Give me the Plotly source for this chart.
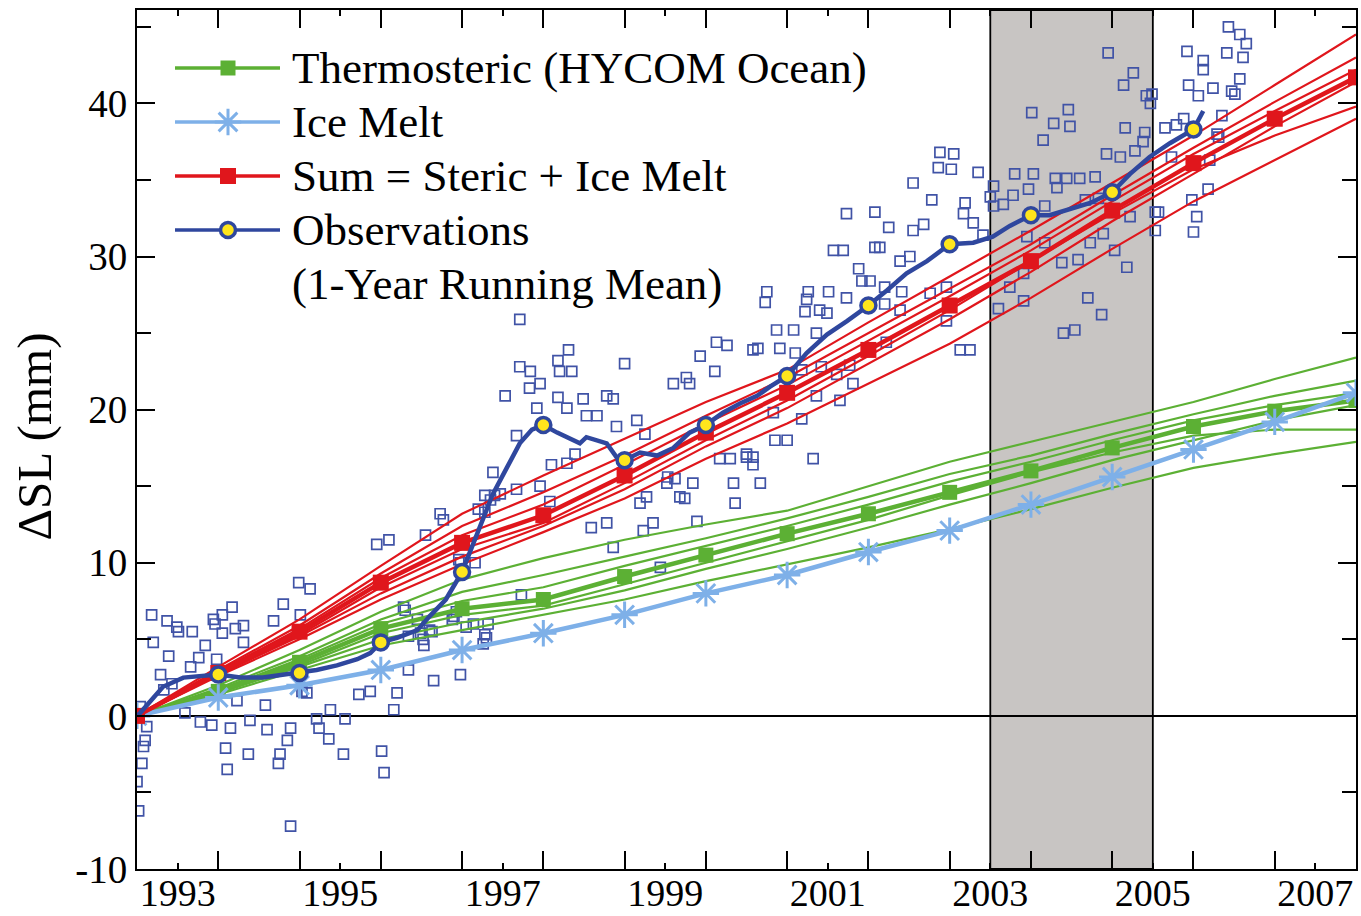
import plotly.graph_objects as go

# ---------------- data ----------------
years = [1993, 1994, 1995, 1996, 1997, 1998, 1999, 2000, 2001, 2002, 2003, 2004, 2005, 2006, 2007, 2008]

thermo_mean = [0, 1.6, 3.5, 5.7, 7.0, 7.6, 9.1, 10.5, 11.9, 13.2, 14.6, 16.0, 17.5, 18.9, 19.9, 20.6]
ice_melt    = [0, 1.2, 2.0, 3.0, 4.3, 5.4, 6.6, 8.0, 9.2, 10.7, 12.1, 13.8, 15.6, 17.4, 19.2, 21.1]
sum_mean    = [0, 2.8, 5.5, 8.7, 11.3, 13.1, 15.7, 18.5, 21.1, 23.9, 26.8, 29.7, 33.0, 36.1, 39.0, 41.7]

thermo_members = [
    [0, 2.0, 4.3, 6.8, 8.9, 10.3, 11.5, 12.5, 13.4, 15.0, 16.6, 17.9, 19.2, 20.5, 22.0, 23.4],
    [0, 1.8, 3.9, 6.3, 8.1, 9.2, 10.4, 11.6, 12.9, 14.3, 15.8, 17.0, 18.4, 19.7, 20.9, 21.9],
    [0, 1.7, 3.7, 6.0, 7.5, 8.4, 9.8, 11.1, 12.4, 13.8, 15.3, 16.6, 18.0, 19.3, 20.3, 21.1],
    [0, 1.5, 3.3, 5.4, 6.6, 7.2, 8.6, 10.0, 11.4, 12.8, 14.4, 15.9, 17.2, 18.3, 18.7, 18.7],
    [0, 1.4, 3.0, 4.6, 5.6, 6.6, 7.6, 8.8, 9.9, 11.0, 12.2, 13.5, 14.9, 16.2, 17.1, 17.9],
    [0, 1.5, 3.2, 5.0, 6.1, 7.0, 8.2, 9.6, 10.9, 12.3, 13.8, 15.2, 16.7, 18.0, 19.3, 20.3],
]
sum_members = [
    [0, 3.2, 6.3, 9.8, 13.2, 15.7, 18.1, 20.5, 22.6, 25.7, 28.7, 31.7, 34.8, 37.9, 41.2, 44.5],
    [0, 3.0, 5.9, 9.3, 12.4, 14.6, 17.0, 19.6, 22.1, 25.0, 27.9, 30.8, 34.0, 37.1, 40.1, 43.0],
    [0, 2.9, 5.7, 9.0, 11.8, 13.8, 16.4, 19.1, 21.6, 24.5, 27.4, 30.4, 33.6, 36.7, 39.5, 42.2],
    [0, 2.7, 5.3, 8.4, 10.9, 12.6, 15.2, 18.0, 20.6, 23.5, 26.5, 29.7, 32.8, 35.7, 37.9, 39.8],
    [0, 2.6, 5.0, 7.6, 9.9, 12.0, 14.2, 16.8, 19.1, 21.7, 24.3, 27.3, 30.5, 33.6, 36.3, 39.0],
    [0, 2.7, 5.2, 8.0, 10.4, 12.4, 14.8, 17.6, 20.1, 23.0, 25.9, 29.0, 32.3, 35.4, 38.5, 41.4],
]

# 1-year running mean of observations
obs_mean_t = [1993.0, 1993.04, 1993.32, 1993.57, 1994.0, 1994.27, 1994.55, 1994.8, 1995.0, 1995.21,
              1995.46, 1995.71, 1995.87, 1996.0, 1996.2, 1996.45, 1996.6, 1996.8, 1997.0, 1997.22,
              1997.38, 1997.55, 1997.71, 1997.86, 1998.0, 1998.17, 1998.29, 1998.45, 1998.53, 1998.66,
              1998.78, 1998.9, 1999.0, 1999.19, 1999.4, 1999.6, 1999.8, 2000.0, 2000.21, 2000.42,
              2000.63, 2000.79, 2001.0, 2001.24, 2001.49, 2001.74, 2002.0, 2002.23, 2002.47, 2002.72,
              2003.0, 2003.29, 2003.53, 2003.74, 2004.0, 2004.23, 2004.48, 2004.73, 2005.0, 2005.22,
              2005.46, 2005.71, 2006.0, 2006.12]
obs_mean_v = [0.0, 0.2, 1.9, 2.5, 2.7, 2.5, 2.5, 2.7, 2.8, 3.0,
              3.3, 3.7, 4.1, 4.8, 5.1, 5.6, 6.5, 7.6, 9.4, 12.3,
              14.5, 16.2, 17.8, 18.7, 19.0, 18.5, 18.2, 17.8, 18.2, 18.0,
              17.8, 16.9, 16.7, 17.2, 17.0, 17.5, 18.5, 19.0, 19.8, 20.4,
              20.9, 21.5, 22.2, 23.7, 24.9, 25.8, 26.8, 27.8, 28.9, 29.7,
              30.8, 30.9, 31.3, 32.0, 32.7, 32.7, 33.1, 33.5, 34.2, 35.4,
              36.5, 37.4, 38.3, 39.5]
obs_mark_t = [1994, 1995, 1996, 1997, 1998, 1999, 2000, 2001, 2002, 2003, 2004, 2005, 2006]
obs_mark_v = [2.7, 2.8, 4.8, 9.4, 19.0, 16.7, 19.0, 22.2, 26.8, 30.8, 32.7, 34.2, 38.3]

# individual observations (~10-day)
obs_t = [
    1993.04, 1993.12, 1993.08, 1993.10, 1993.06, 1993.00, 1993.02, 1993.18, 1993.20, 1993.37,
    1993.49, 1993.51, 1993.68, 1993.39, 1993.29, 1993.33, 1993.43, 1993.59, 1993.66, 1993.76,
    1993.84, 1993.94, 1993.96, 1994.05, 1994.17, 1994.05, 1994.21, 1994.31, 1994.31, 1993.98,
    1993.78, 1993.92, 1994.15, 1994.09, 1994.11, 1994.39, 1994.37, 1994.23, 1994.58, 1994.60,
    1994.68, 1994.80, 1994.76, 1994.74, 1994.89, 1994.85, 1994.89, 1994.99, 1995.13, 1995.01,
    1995.03, 1995.09, 1995.21, 1995.24, 1995.36, 1995.38, 1995.56, 1995.54, 1995.73, 1995.87,
    1996.01, 1996.04, 1995.95, 1996.10, 1996.16, 1996.20, 1996.28, 1996.34, 1996.49, 1996.53,
    1996.63, 1996.65, 1996.73, 1996.55, 1996.88, 1996.98, 1996.96,
    1997.28, 1997.40, 1997.35, 1997.20, 1996.98, 1997.16, 1996.30, 1996.45, 1996.60, 1996.34,
    1996.52, 1996.90, 1997.05, 1997.28, 1999.53,
    1997.71, 1997.71, 1997.84, 1997.96, 1997.83, 1997.53, 1998.18, 1998.31, 1998.20, 1998.35,
    1998.18, 1998.49, 1998.53, 1998.66, 1998.29, 1997.92, 1997.67, 1997.38, 1997.67, 1997.47,
    1997.28, 1997.96, 1998.10, 1998.29, 1998.39, 1998.08, 1998.59, 1998.78, 1998.86, 1998.78,
    1998.86, 1999.00, 1999.15, 1999.25, 1998.90, 1999.19, 1999.27, 1999.35, 1999.23, 1999.44,
    1999.52, 1999.62, 1999.68, 1999.74, 1999.60, 1999.76, 1999.80, 1999.93, 2000.13, 2000.26,
    2000.11, 1999.84, 1999.89, 2000.36, 2000.34, 2000.58, 2000.67, 2000.17, 2000.30, 2000.50,
    2000.64, 2000.73, 2000.58, 1997.73, 1997.14, 1997.32, 1996.93, 1997.26, 1997.30, 1996.77,
    2000.75, 2001.26, 2001.24, 2001.51, 2001.22, 2001.40, 2001.49, 2000.87, 2001.08, 2000.91,
    2001.10, 2001.36, 2001.42, 2001.61, 2001.18, 2001.36, 2001.65, 2001.18, 2000.83, 2000.85,
    2001.00, 2000.50, 2000.58, 2001.32, 2001.73, 2002.08, 2002.25, 2001.57, 2001.69, 2002.08,
    2002.14, 2001.88, 2001.92, 2002.02, 2001.73, 2002.20, 2002.20, 2002.39, 2002.51, 2002.55,
    2002.68, 2002.55, 2002.78, 2002.88, 2003.05, 2002.86, 2003.02, 2003.35, 2003.19, 2003.17,
    2003.29, 2003.41, 2002.41, 2002.39, 2002.76, 2002.96, 2003.13, 2003.25, 2002.96, 2002.22,
    2001.77, 2001.81,
    2005.26, 2005.14, 2005.42, 2005.47, 2004.01, 2004.46, 2004.28, 2004.48, 2004.15, 2005.16,
    2005.40, 2005.38, 2004.93, 2005.10, 2005.28, 2003.80, 2004.03, 2004.30, 2004.32, 2004.44,
    2004.60, 2004.79, 2003.54, 2003.66, 2003.78, 2003.97, 2004.17, 2004.67, 2004.83, 2003.95,
    2004.17, 2004.73, 2004.89, 2005.22, 2005.03, 2004.58, 2004.38, 2005.18, 2003.91, 2003.74,
    2003.60, 2003.91, 2004.70, 2004.87, 2004.40, 2004.54, 2005.53, 2003.50, 2003.54, 2005.49,
    2004.95,
    2006.43, 2006.57, 2006.65, 2006.61, 2006.41, 2005.92, 2006.12, 2006.12, 2006.57, 2005.94,
    2006.24, 2006.06, 2006.47, 2006.51, 2006.35, 2005.65, 2005.88, 2005.79, 2006.29, 2006.31,
    2005.73, 2006.20, 2006.18, 2005.98, 2006.04, 2006.00, 2005.57, 2005.53,
]
obs_v = [
    0.6, -0.7, -2.0, -1.6, -3.1, -4.3, -6.2, 6.6, 4.8, 6.2,
    5.8, 5.5, 5.5, 3.9, 2.7, 1.7, 2.1, 0.2, 3.2, 3.8,
    4.6, 6.3, 6.0, 6.6, 7.1, 5.4, 5.7, 5.9, 4.8, 3.7,
    -0.4, -0.6, -0.8, -2.1, -3.5, -0.3, -2.5, 1.0, 0.7, -0.9,
    6.2, 7.3, -2.5, -3.1, -0.8, -1.6, -7.2, 8.7, 8.3, 6.6,
    1.6, 1.5, -0.2, -0.8, -1.5, 0.4, -0.2, -2.5, 1.4, 1.6,
    -2.3, -3.7, 11.2, 11.5, 0.4, 1.5, 7.1, 3.0, 5.4, 4.6,
    5.5, 2.3, 13.2, 11.8, 6.3, 2.7, 10.2,
    14.4, 14.4, 14.1, 13.5, 10.0, 10.0, 6.9, 6.3, 5.6, 5.2,
    5.0, 6.5, 5.8, 5.3, 15.6,
    25.9, 22.8, 22.5, 21.7, 21.4, 20.9, 23.2, 23.9, 22.5, 22.5,
    20.8, 20.7, 19.6, 19.6, 20.1, 20.1, 18.3, 15.9, 14.8, 14.5,
    13.3, 15.0, 16.4, 16.5, 17.1, 14.0, 12.3, 12.6, 11.0, 20.9,
    20.7, 23.0, 19.3, 18.4, 18.9, 13.9, 14.3, 12.6, 12.1, 9.7,
    15.2, 15.5, 14.3, 14.2, 21.7, 22.1, 21.7, 23.5, 24.4, 24.2,
    22.5, 15.2, 12.7, 13.9, 15.2, 16.9, 15.2, 16.8, 16.8, 17.1,
    24.0, 27.0, 23.9, 7.9, 6.0, 6.0, 6.8, 4.7, 5.1, 12.8,
    27.7, 27.7, 27.2, 27.7, 26.4, 26.5, 26.3, 25.2, 25.2, 24.0,
    23.7, 25.0, 22.8, 22.3, 22.6, 20.9, 20.6, 19.4, 19.8, 18.0,
    18.0, 16.9, 16.4, 16.8, 32.8, 32.9, 31.9, 30.4, 30.4, 30.6,
    30.6, 29.2, 28.4, 28.4, 27.3, 28.0, 26.9, 29.7, 30.0, 31.7,
    32.1, 34.8, 33.7, 36.8, 36.7, 35.8, 35.7, 35.5, 33.5, 32.8,
    32.2, 31.4, 27.7, 26.5, 27.6, 25.8, 23.9, 23.9, 28.0, 24.4,
    22.9, 21.7,
    42.0, 41.2, 40.5, 40.0, 39.4, 39.6, 38.7, 38.5, 37.6, 38.4,
    38.1, 37.5, 36.7, 36.5, 36.9, 35.4, 35.4, 35.1, 34.5, 35.1,
    35.1, 35.2, 34.6, 33.4, 34.0, 34.4, 33.3, 33.7, 33.8, 31.3,
    30.9, 30.9, 31.5, 32.6, 30.4, 29.8, 29.6, 29.3, 28.9, 28.0,
    26.6, 27.1, 27.3, 26.2, 25.0, 25.2, 32.9, 33.9, 33.3, 40.6,
    43.3,
    45.0, 44.5, 43.9, 43.0, 43.3, 43.4, 42.8, 42.2, 41.6, 41.2,
    41.0, 40.5, 40.8, 40.6, 39.2, 38.4, 39.0, 38.6, 38.0, 37.8,
    36.5, 36.3, 34.4, 33.7, 32.6, 31.6, 32.9, 31.7,
]

x_tick_vals = [1993.5, 1995.5, 1997.5, 1999.5, 2001.5, 2003.5, 2005.5, 2007.5]
x_tick_text = ["1993", "1995", "1997", "1999", "2001", "2003", "2005", "2007"]
x_minor_vals = [1994, 1995, 1996, 1997, 1998, 1999, 2000, 2001, 2002, 2003, 2004, 2005, 2006, 2007]
y_tick_vals = [-10, 0, 10, 20, 30, 40]
y_tick_text = ["-10", "0", "10", "20", "30", "40"]
shade_period = [2003.5, 2005.5]

legend_labels = ["Thermosteric (HYCOM Ocean)", "Ice Melt", "Sum = Steric + Ice Melt",
                 "Observations", "(1-Year Running Mean)"]

# ---------------- style ----------------
GREEN = "#5cb034"
LBLUE = "#7eb0e8"
RED = "#e0161c"
DBLUE = "#2f479e"
SQ = "#4053a6"
YEL = "#ffe61c"
FONT = "Liberation Serif"

fig = go.Figure()

fig.add_trace(go.Scatter(x=obs_t, y=obs_v, mode="markers",
                         marker=dict(symbol="square-open", size=10, color=SQ, line=dict(width=1.7, color=SQ)),
                         showlegend=False, hoverinfo="skip"))

for m in thermo_members:
    fig.add_trace(go.Scatter(x=years, y=m, mode="lines", line=dict(color=GREEN, width=2.2),
                             showlegend=False, hoverinfo="skip"))
for m in sum_members:
    fig.add_trace(go.Scatter(x=years, y=m, mode="lines", line=dict(color=RED, width=2.2),
                             showlegend=False, hoverinfo="skip"))

fig.add_trace(go.Scatter(x=years, y=thermo_mean, mode="lines+markers",
                         line=dict(color=GREEN, width=4.5),
                         marker=dict(symbol="square", size=15, color=GREEN),
                         showlegend=False))
fig.add_trace(go.Scatter(x=years, y=ice_melt, mode="lines+markers",
                         line=dict(color=LBLUE, width=4.5),
                         marker=dict(symbol="asterisk-open", size=22, color=LBLUE, line=dict(width=3, color=LBLUE)),
                         showlegend=False))
fig.add_trace(go.Scatter(x=years, y=sum_mean, mode="lines+markers",
                         line=dict(color=RED, width=4.5),
                         marker=dict(symbol="square", size=16, color=RED),
                         showlegend=False))
fig.add_trace(go.Scatter(x=obs_mean_t, y=obs_mean_v, mode="lines",
                         line=dict(color=DBLUE, width=4.5),
                         showlegend=False))
fig.add_trace(go.Scatter(x=obs_mark_t, y=obs_mark_v, mode="markers",
                         marker=dict(symbol="circle", size=15, color=YEL, line=dict(width=3.5, color=DBLUE)),
                         showlegend=False))

# ---------------- legend (pixel overlay axes) ----------------
leg_rows = [68, 122, 176, 230]
leg_x0, leg_x1, leg_xm, leg_tx = 175, 280, 228, 290
leg_styles = [
    (GREEN, dict(symbol="square", size=15, color=GREEN)),
    (LBLUE, dict(symbol="asterisk-open", size=22, color=LBLUE, line=dict(width=3, color=LBLUE))),
    (RED, dict(symbol="square", size=16, color=RED)),
    (DBLUE, dict(symbol="circle", size=15, color=YEL, line=dict(width=3.5, color=DBLUE))),
]
for ry, (col, mk) in zip(leg_rows, leg_styles):
    fig.add_trace(go.Scatter(x=[leg_x0, leg_x1], y=[ry, ry], xaxis="x2", yaxis="y2", mode="lines",
                             line=dict(color=col, width=3.5), showlegend=False, hoverinfo="skip"))
    fig.add_trace(go.Scatter(x=[leg_xm], y=[ry], xaxis="x2", yaxis="y2", mode="markers",
                             marker=mk, showlegend=False, hoverinfo="skip"))
for i, lab in enumerate(legend_labels):
    fig.add_annotation(x=leg_tx, y=68 + 54 * i, xref="x2", yref="y2", text=lab, showarrow=False,
                       xanchor="left", yanchor="middle", font=dict(family=FONT, size=45, color="black"))

fig.add_annotation(x=-0.084, y=0.503, xref="paper", yref="paper", text="ΔSL (mm)", textangle=-90,
                   showarrow=False, xanchor="center", yanchor="middle",
                   font=dict(family=FONT, size=49, color="black"))

fig.add_shape(type="rect", x0=shade_period[0], x1=shade_period[1], y0=0, y1=1, xref="x", yref="paper",
              fillcolor="#c8c5c3", line=dict(color="black", width=1.8), layer="below")

fig.update_layout(
    width=1361, height=916,
    margin=dict(l=137, r=5, t=10, b=47, autoexpand=False),
    paper_bgcolor="white", plot_bgcolor="white",
    font=dict(family=FONT, size=39, color="black"),
    showlegend=False,
    xaxis=dict(range=[1993, 2008], tickmode="array", tickvals=x_tick_vals, ticktext=x_tick_text,
               ticks="inside", ticklen=6, tickwidth=2, tickcolor="black", ticklabelstandoff=-11,
               automargin=False,
               minor=dict(tickmode="array", tickvals=x_minor_vals, ticks="inside", ticklen=18,
                          tickwidth=2, tickcolor="black"),
               showgrid=False, zeroline=False, showline=True, linecolor="black", linewidth=2,
               mirror="allticks", tickfont=dict(family=FONT, size=38)),
    yaxis=dict(range=[-10, 46.1], tickmode="array", tickvals=y_tick_vals, ticktext=y_tick_text,
               ticks="inside", ticklen=18, tickwidth=2, tickcolor="black", automargin=False,
               minor=dict(dtick=5, tick0=0, ticks="inside", ticklen=14, tickwidth=2, tickcolor="black"),
               showgrid=False, zeroline=True, zerolinecolor="black", zerolinewidth=1.8,
               showline=True, linecolor="black", linewidth=2, mirror="allticks",
               tickfont=dict(family=FONT, size=39)),
    xaxis2=dict(range=[137, 1356], overlaying="x", visible=False, fixedrange=True),
    yaxis2=dict(range=[869, 10], overlaying="y", visible=False, fixedrange=True),
)

fig.write_html("out.html", config={"displayModeBar": False},
               post_script="document.body.style.margin='0px';")
